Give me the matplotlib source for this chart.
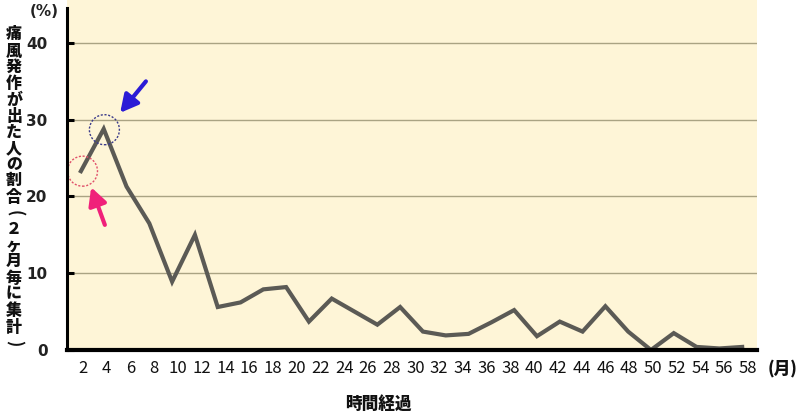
import numpy as np
import matplotlib.pyplot as plt
from matplotlib.patches import Ellipse

plt.rcParams['font.family'] = ['Noto Sans CJK JP', 'DejaVu Sans']

# 痛風発作が出た人の割合 (%), 2ヶ月毎
rates = [23.3, 28.8, 21.3, 16.5, 8.9, 15.0, 5.6, 6.2, 7.9, 8.2,
         3.7, 6.7, 5.0, 3.3, 5.6, 2.4, 1.9, 2.1, 3.6, 5.2,
         1.8, 3.7, 2.4, 5.7, 2.4, 0.0, 2.2, 0.4, 0.2, 0.4]
month_labels = [str(m) for m in range(2, 59, 2)]
y_ticks = [0, 10, 20, 30, 40]
ylabel = "痛風発作が出た人の割合（２ヶ月毎に集計）"

x = np.arange(len(rates))

fig = plt.figure(figsize=(8, 4.2), dpi=100)
ax = fig.add_axes([67/800, 70/420, 690/800, 350/420])
ax.set_facecolor('#fef5d7')
ax.set_xlim(-0.61, 29.65)
ax.set_ylim(0, 45.6)

for yv in y_ticks[1:]:
    ax.axhline(yv, color='#aaa383', lw=1, zorder=1)

ax.plot(x, rates, color='#5b5a55', lw=3, solid_joinstyle='miter', zorder=3)

# dotted circles + arrows on the first two points
ax.add_patch(Ellipse((x[0] + 0.07, rates[0]), 30/22.8, 30/7.67, fill=False,
                     ec='#e0506a', lw=1, ls=(0, (1.5, 1.2)), zorder=4))
ax.add_patch(Ellipse((x[1] + 0.03, rates[1] - 0.1), 30/22.8, 30/7.67, fill=False,
                     ec='#3a3a8a', lw=1, ls=(0, (1.5, 1.2)), zorder=4))
ax.annotate("", xy=(1.72, 30.9), xytext=(2.85, 35.0),
            arrowprops=dict(arrowstyle='-|>,head_length=1.05,head_width=0.55',
                            lw=3, color='#2b1bd6', mutation_scale=10,
                            shrinkA=0, shrinkB=0))
ax.annotate("", xy=(0.45, 21.2), xytext=(1.05, 16.3),
            arrowprops=dict(arrowstyle='-|>,head_length=1.05,head_width=0.55',
                            lw=3, color='#f0207a', mutation_scale=10,
                            shrinkA=0, shrinkB=0))

ax.set_yticks(y_ticks, [str(v) for v in y_ticks], fontweight='bold',
              color='#222222', family='DejaVu Sans')
ax.tick_params(axis='y', direction='in', length=5, width=2.2, pad=14, labelsize=11)
ax.set_xticks(np.linspace(0.09, 29.25, len(month_labels)), month_labels)
ax.tick_params(axis='x', length=0, pad=7, labelsize=12, labelcolor='#111111')

for s in ['top', 'right']:
    ax.spines[s].set_visible(False)
ax.spines['left'].set_linewidth(2.2)
ax.spines['left'].set_bounds(0, 44.5)
ax.spines['bottom'].set_linewidth(3)
ax.spines['left'].set_zorder(5)
ax.spines['bottom'].set_zorder(5)

fig.text(44/800, 1 - 11/420, "(%)", ha='center', va='center', family='DejaVu Sans',
         fontsize=11, fontweight='bold', color='#222222')
# 縦書き: 括弧は回転させる
for i, ch in enumerate(ylabel):
    y = 1 - (35 + i * 16.2)/420
    if ch in "（）":
        fig.text(14/800, y, "(" if ch == "（" else ")", ha='center', va='center',
                 rotation=-90, fontsize=12, fontweight='bold', color='#111111')
    else:
        fig.text(14/800, y, ch, ha='center', va='center',
                 fontsize=11.5, fontweight='heavy', color='#111111')
fig.text(378/800, 1 - 404/420, "時間経過", ha='center', va='center',
         fontsize=12, fontweight='heavy', color='#111111')
fig.text(783/800, 1 - 368/420, "(月)", ha='center', va='center',
         fontsize=12, fontweight='heavy', color='#111111')

fig.savefig('out.png', dpi=100)
